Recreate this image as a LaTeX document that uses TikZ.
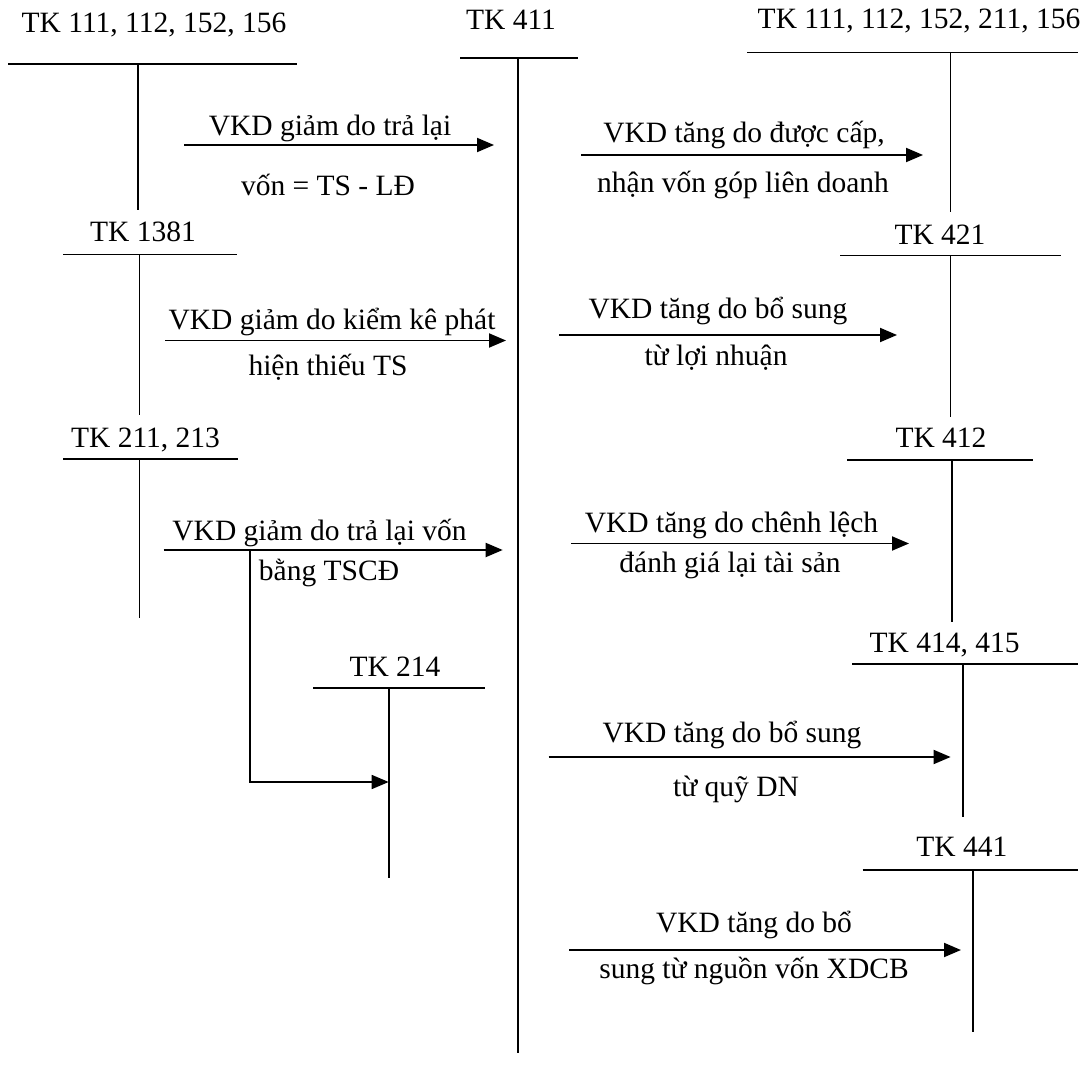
\documentclass[tikz,border=0pt]{standalone}
\usepackage{fontspec}
\setmainfont{Liberation Serif}
\usetikzlibrary{arrows.meta}
\begin{document}
\begin{tikzpicture}[x=1pt,y=-1pt,
  lbl/.style={font=\fontsize{29.5}{34}\selectfont, inner sep=0pt, anchor=base},
  tacc/.style={line width=1.7pt},
  mainacc/.style={line width=2.3pt},
  flow/.style={line width=1.9pt,-{Triangle[length=17pt,width=14pt]}},
  branch/.style={line width=1.5pt,-{Triangle[length=17pt,width=14pt]}}]
\useasboundingbox (0,0) rectangle (1081,1083);

% ---- TK 111, 112, 152, 156 (left top)
\node[lbl] (l111) at (154,33) {TK 111, 112, 152, 156};
\coordinate (h111a) at (8,64);  \coordinate (h111b) at (297,64);
\coordinate (v111a) at (138,64); \coordinate (v111b) at (138,210);
\draw[tacc] (h111a) -- (h111b) (v111a) -- (v111b);

% ---- TK 411 (centre)
\node[lbl] (l411) at (511,30) {TK 411};
\coordinate (h411a) at (460,58); \coordinate (h411b) at (578,58);
\coordinate (v411a) at (518,58); \coordinate (v411b) at (518,1053);
\draw[tacc] (h411a) -- (h411b);
\draw[mainacc] (v411a) -- (v411b);

% ---- TK 111, 112, 152, 211, 156 (right top)
\node[lbl] (lr111) at (919,29) {TK 111, 112, 152, 211, 156};
\coordinate (hr111a) at (747,52.5); \coordinate (hr111b) at (1078,52.5);
\coordinate (vr111a) at (950.6,52.5); \coordinate (vr111b) at (950.6,212);
\draw[tacc] (hr111a) -- (hr111b) (vr111a) -- (vr111b);

% ---- TK 1381
\node[lbl] (l1381) at (143,242) {TK 1381};
\coordinate (h1381a) at (63,254.5); \coordinate (h1381b) at (237,254.5);
\coordinate (v1381a) at (139.5,254.5); \coordinate (v1381b) at (139.5,415);
\draw[tacc] (h1381a) -- (h1381b) (v1381a) -- (v1381b);

% ---- TK 421
\node[lbl] (l421) at (940,244) {TK 421};
\coordinate (h421a) at (840,255.5); \coordinate (h421b) at (1061,255.5);
\coordinate (v421a) at (950.6,255.5); \coordinate (v421b) at (950.6,417);
\draw[tacc] (h421a) -- (h421b) (v421a) -- (v421b);

% ---- TK 211, 213
\node[lbl] (l211) at (145.5,447.5) {TK 211, 213};
\coordinate (h211a) at (63,459); \coordinate (h211b) at (237.6,459);
\coordinate (v211a) at (139.5,459); \coordinate (v211b) at (139.5,618);
\draw[tacc] (h211a) -- (h211b) (v211a) -- (v211b);

% ---- TK 214
\node[lbl] (l214) at (395,676.7) {TK 214};
\coordinate (h214a) at (313,688); \coordinate (h214b) at (485,688);
\coordinate (v214a) at (388.7,688); \coordinate (v214b) at (388.7,878);
\draw[tacc] (h214a) -- (h214b) (v214a) -- (v214b);

% ---- TK 412
\node[lbl] (l412) at (941,447.6) {TK 412};
\coordinate (h412a) at (847,459.7); \coordinate (h412b) at (1033,459.7);
\coordinate (v412a) at (952,459.7); \coordinate (v412b) at (952,622);
\draw[tacc] (h412a) -- (h412b) (v412a) -- (v412b);

% ---- TK 414, 415
\node[lbl] (l414) at (944.6,652.8) {TK 414, 415};
\coordinate (h414a) at (852,664); \coordinate (h414b) at (1078,664);
\coordinate (v414a) at (962.7,664); \coordinate (v414b) at (962.7,817);
\draw[tacc] (h414a) -- (h414b) (v414a) -- (v414b);

% ---- TK 441
\node[lbl] (l441) at (961.8,856) {TK 441};
\coordinate (h441a) at (862.6,870); \coordinate (h441b) at (1078,870);
\coordinate (v441a) at (973,870); \coordinate (v441b) at (973,1032);
\draw[tacc] (h441a) -- (h441b) (v441a) -- (v441b);

% ---- flows
% 1
\coordinate (f1s) at (184,145); \coordinate (f1e) at (494,145);
\draw[flow] (f1s) -- (f1e);
\node[lbl] (t1a) at (330,136) {VKD giảm do trả lại};
\node[lbl] (t1b) at (328,196) {vốn = TS - LĐ};
% 2
\coordinate (f2s) at (581,155); \coordinate (f2e) at (923,155);
\draw[flow] (f2s) -- (f2e);
\node[lbl] (t2a) at (744,143) {VKD tăng do được cấp,};
\node[lbl] (t2b) at (743,193) {nhận vốn góp liên doanh};
% 3
\coordinate (f3s) at (165,340.5); \coordinate (f3e) at (506,340.5);
\draw[flow] (f3s) -- (f3e);
\node[lbl] (t3a) at (332,329) {VKD giảm do kiểm kê phát};
\node[lbl] (t3b) at (328,375) {hiện thiếu TS};
% 4
\coordinate (f4s) at (559,335); \coordinate (f4e) at (897,335);
\draw[flow] (f4s) -- (f4e);
\node[lbl] (t4a) at (718,318) {VKD tăng do bổ sung};
\node[lbl] (t4b) at (716,365) {từ lợi nhuận};
% 5
\coordinate (f5s) at (163.6,550); \coordinate (f5e) at (502.7,550);
\draw[flow] (f5s) -- (f5e);
\node[lbl] (t5a) at (319.5,540) {VKD giảm do trả lại vốn};
\node[lbl] (t5b) at (329,580) {bằng TSCĐ};
\coordinate (b5s) at (250,550); \coordinate (b5e) at (388.7,782);
\draw[branch] (b5s) |- (b5e);
% 6
\coordinate (f6s) at (571,543.5); \coordinate (f6e) at (909,543.5);
\draw[flow] (f6s) -- (f6e);
\node[lbl] (t6a) at (731.5,532) {VKD tăng do chênh lệch};
\node[lbl] (t6b) at (730,572) {đánh giá lại tài sản};
% 7
\coordinate (f7s) at (548.6,757); \coordinate (f7e) at (950.6,757);
\draw[flow] (f7s) -- (f7e);
\node[lbl] (t7a) at (732,742.5) {VKD tăng do bổ sung};
\node[lbl] (t7b) at (736,796) {từ quỹ DN};
% 8
\coordinate (f8s) at (569,950); \coordinate (f8e) at (961,950);
\draw[flow] (f8s) -- (f8e);
\node[lbl] (t8a) at (754,932) {VKD tăng do bổ};
\node[lbl] (t8b) at (754,978.7) {sung từ nguồn vốn XDCB};
\end{tikzpicture}
\end{document}
